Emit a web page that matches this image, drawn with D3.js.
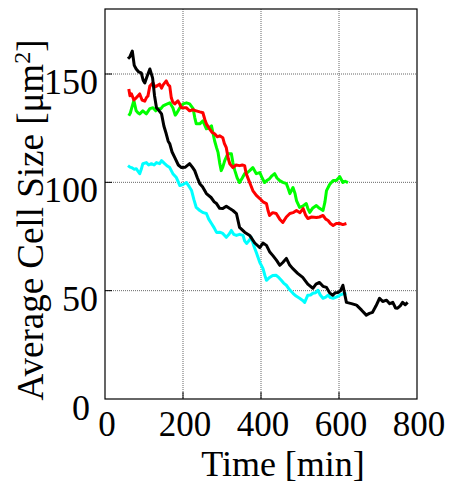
<!DOCTYPE html>
<html>
<head>
<meta charset="utf-8">
<script src="https://cdn.jsdelivr.net/npm/d3@7"></script>
<style>
  body { margin: 0; background: #fff; }
  text { font-family: "Liberation Serif", "Times New Roman", serif; fill: #000; }
</style>
</head>
<body>
<script>
// values, [time in min, size in um^2]
var blackSeries = [[59,157],[64,158],[70,160.6],[75,154],[80,152.3],[86,151],[93,150.5],[98,147],[102,145.9],[108,149],[115,152.3],[122,148.2],[127,140],[132,134.4],[139,133],[145,131.6],[151,126],[157,122.4],[162,119],[166,117.8],[172,114],[179,111.4],[188,108],[196,106.8],[206,107],[217,108.6],[224,107],[230,105.4],[237,102],[243,99.4],[250,98],[260,94.8],[272,93],[280,91],[286,90.2],[294,88],[302,87.9],[311,89],[320,87.9],[328,87],[337,85.6],[345,79.2],[358,77],[371,75.5],[384,72],[397,69.9],[405,72],[414,70.9],[422,68],[430,66.3],[440,64],[448,61.7],[456,63],[465,64.9],[473,62],[481,60.3],[494,58],[507,56.1],[520,53],[533,51.1],[541,53],[550,53.8],[559,52],[568,51.5],[576,49],[584,47.9],[590,49],[597,49.2],[604,50],[610,52.5],[619,44.6],[632,44],[645,43.3],[658,41],[670,38.7],[678,39.5],[686,40],[695,43],[704,46.5],[712,45],[722,45.6],[730,44],[738,44.6],[745,42],[750,41.9],[757,43],[763,44.6],[770,43.5],[776,44.6]];

var redSeries = [[61,143.1],[64,140],[68,140.8],[74,138],[80,139],[85,140],[89,140.8],[95,138],[102,137.5],[106,139],[110,139.8],[115,144.4],[123,145.9],[128,144],[132,144.4],[140,145.3],[145,143.5],[149,145],[153,145.9],[157,146.8],[162,145],[166,144.4],[170,139],[174,137],[179,136.2],[187,137.6],[192,136],[196,134.4],[209,134.4],[217,133],[225,133.5],[234,133],[243,132.5],[251,132.1],[256,129],[260,127],[268,124.7],[275,123],[281,122.4],[288,121],[294,121.5],[302,120.6],[306,118],[311,116],[316,111],[320,108.6],[328,106.8],[336,108],[345,107.7],[352,108],[358,107.7],[362,104],[367,101.7],[373,99],[379,96.2],[388,94],[397,92.5],[405,91],[414,90.2],[418,87],[422,84.7],[430,86],[439,85.6],[448,83],[456,81.5],[465,84],[474,85.6],[482,86],[491,87],[500,86],[508,87.9],[514,85],[520,83.3],[530,84],[542,83.8],[550,84],[559,84.7],[566,83],[572,82.4],[578,81],[585,80.1],[593,81],[602,81],[610,80.5],[619,81]];

var greenSeries = [[61,130.7],[65,132],[68,134],[74,137.7],[80,133],[85,132],[89,131.6],[97,133],[106,131.6],[115,134],[123,134.4],[130,133],[136,134],[143,134],[149,135.3],[157,136],[166,136.7],[174,134.4],[180,131],[183,131.6],[192,134.4],[200,136.2],[209,136.7],[217,136.2],[226,134],[230,130],[234,127],[243,127],[251,128.4],[260,124.7],[266,125],[273,126.1],[281,119.2],[286,116],[290,113.7],[294,109],[298,105.4],[302,107],[307,110],[315,113.2],[324,113.2],[328,109],[333,105.4],[339,102],[345,99.9],[352,102],[358,104],[365,104.5],[371,105.4],[379,106.8],[388,104],[397,104.5],[403,102],[409,99.9],[416,101],[422,101.7],[428,103],[435,104],[441,102],[448,100.8],[456,100],[465,99.4],[470,97],[474,94.8],[482,97.6],[487,95],[491,91.6],[499,88.4],[507,89],[516,90.2],[520,88],[525,86.1],[532,88],[542,89.3],[550,88],[559,87],[564,91],[568,96.2],[576,99],[585,100.8],[593,100.8],[602,102.6],[610,99.9],[616,100.5],[623,99.9]];

var cyanSeries = [[59,107.7],[64,107],[68,106.8],[75,106],[80,106.3],[85,105],[89,104],[93,106],[97,108.6],[106,109.1],[112,108],[119,108.6],[126,108],[132,109.1],[140,108.6],[145,110],[153,108.6],[160,107.5],[166,106.8],[174,104],[183,102.2],[192,98.5],[200,99],[209,99.9],[216,98],[222,96.2],[228,92],[234,88.4],[243,87],[252,86],[260,85.6],[266,83],[273,81],[280,79],[286,76.9],[294,77],[302,76.4],[311,74.6],[318,76],[324,77.8],[330,76],[337,75.5],[345,76],[354,75.5],[358,73],[363,71.8],[369,73],[375,74.6],[381,71],[388,67.6],[397,63],[405,60.3],[410,57],[414,54.8],[422,56.1],[430,57],[439,57.1],[446,56],[452,54.8],[458,53.5],[465,52.5],[473,50.5],[482,48.8],[490,47.5],[499,46.5],[507,45.5],[512,44.6],[520,47.9],[527,48],[533,48.8],[540,49],[546,50.2],[552,48],[559,46.5],[566,47],[572,47.9],[578,46.8],[585,46.5],[593,47],[602,47.9],[610,48.5],[619,48.8]];

var xTicks = [0, 200, 400, 600, 800];
var yTicks = [0, 50, 100, 150];

var width = 451, height = 486;
var margin = {top: 9, right: 34, bottom: 87, left: 105};
var innerW = width - margin.left - margin.right,
    innerH = height - margin.top - margin.bottom;

var svg = d3.select('body')
    .append('svg')
    .attr('width', width)
    .attr('height', height);

var g = svg.append('g')
    .attr('transform', 'translate(' + margin.left + ',' + margin.top + ')');

var x = d3.scaleLinear().domain([0, 800]).range([0, innerW]);
var y = d3.scaleLinear().domain([0, 180]).range([innerH, 0]);

// dotted grid
g.selectAll('.vgrid')
    .data(xTicks.slice(1, -1))
    .enter()
    .append('line')
    .attr('x1', function(d) { return x(d); })
    .attr('x2', function(d) { return x(d); })
    .attr('y1', 0)
    .attr('y2', innerH)
    .attr('stroke', '#666')
    .attr('stroke-dasharray', '1,1');

g.selectAll('.hgrid')
    .data(yTicks.slice(1))
    .enter()
    .append('line')
    .attr('x1', 0)
    .attr('x2', innerW)
    .attr('y1', function(d) { return y(d); })
    .attr('y2', function(d) { return y(d); })
    .attr('stroke', '#666')
    .attr('stroke-dasharray', '1,1');

// inward ticks
g.selectAll('.xtick')
    .data(xTicks.slice(1, -1))
    .enter()
    .append('line')
    .attr('x1', function(d) { return x(d); })
    .attr('x2', function(d) { return x(d); })
    .attr('y1', innerH)
    .attr('y2', innerH - 7)
    .attr('stroke', '#000');

g.selectAll('.ytick')
    .data(yTicks.slice(1))
    .enter()
    .append('line')
    .attr('x1', 0)
    .attr('x2', 7)
    .attr('y1', function(d) { return y(d); })
    .attr('y2', function(d) { return y(d); })
    .attr('stroke', '#000');

var line = d3.line()
    .x(function(d) { return x(d[0]); })
    .y(function(d) { return y(d[1]); });

var series = [
    {data: cyanSeries, color: '#00ffff'},
    {data: greenSeries, color: '#00ff00'},
    {data: redSeries, color: '#ff0000'},
    {data: blackSeries, color: '#000000'}
];

g.selectAll('.series')
    .data(series)
    .enter()
    .append('path')
    .attr('d', function(d) { return line(d.data); })
    .attr('fill', 'none')
    .attr('stroke', function(d) { return d.color; })
    .attr('stroke-width', 3)
    .attr('stroke-linejoin', 'round');

// frame
g.append('rect')
    .attr('width', innerW)
    .attr('height', innerH)
    .attr('fill', 'none')
    .attr('stroke', '#000')
    .attr('stroke-width', 1.2);

// tick labels
g.selectAll('.xlab')
    .data(xTicks)
    .enter()
    .append('text')
    .attr('x', function(d) { return x(d) + 2; })
    .attr('y', innerH + 37)
    .attr('text-anchor', 'middle')
    .style('font-size', '35px')
    .text(function(d) { return d; });

g.selectAll('.ylab')
    .data(yTicks)
    .enter()
    .append('text')
    .attr('x', function(d) { return d === 0 ? -15 : -7; })
    .attr('y', function(d) { return y(d) + (d === 0 ? 21 : 20); })
    .attr('text-anchor', 'end')
    .style('font-size', '36px')
    .text(function(d) { return d; });

// axis titles
svg.append('text')
    .attr('x', 283)
    .attr('y', 476)
    .attr('text-anchor', 'middle')
    .style('font-size', '36px')
    .text('Time [min]');

var yt = svg.append('text')
    .attr('transform', 'translate(43,220) rotate(-90)')
    .attr('text-anchor', 'middle')
    .style('font-size', '37px');
yt.append('tspan').text('Average Cell Size [\u03bcm');
yt.append('tspan').attr('dy', -13).style('font-size', '24px').text('2');
yt.append('tspan').attr('dy', 13).text(']');
</script>
</body>
</html>
